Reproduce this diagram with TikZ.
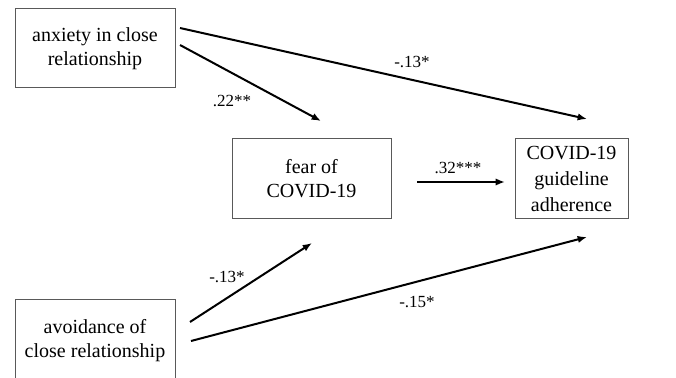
\documentclass[tikz,border=0pt]{standalone}
\usepackage{fontspec}
\setmainfont{Liberation Serif}
\usetikzlibrary{arrows.meta}
\tikzset{
	box/.style={draw=black!65, line width=0.75pt, inner sep=0pt, align=center, font=\fontsize{15}{18}\selectfont},
	path/.style={line width=1.5pt, -{Latex[length=7pt,width=5.5pt]}},
	coef/.style={inner sep=0pt, font=\fontsize{12.75}{14}\selectfont}
}

\begin{document}
\begin{tikzpicture}[x=0.75pt, y=-0.75pt]
			%%%%% START %%%%%
			\useasboundingbox (0, 0) rectangle (676, 378);
			
			\node[box, minimum width=120pt, minimum height=59.25pt] (anx) at (95, 48.5) {anxiety in close\\relationship};
			\node[box, minimum width=119.25pt, minimum height=60pt] (fear) at (311.5, 179) {fear of\\COVID-19};
			\node[box, minimum width=84.75pt, minimum height=60pt, font=\fontsize{15}{19.5}\selectfont] (adh) at (571.5, 179) {COVID-19\\guideline\\adherence};
			\node[box, minimum width=120pt, minimum height=63pt] (avo) at (95, 341) {avoidance of\\close relationship};
			
			\coordinate (anxA) at (180, 28);
			\coordinate (anxB) at (180, 45);
			\coordinate (fearIn) at (321, 121);
			\coordinate (adhIn) at (587, 119);
			\coordinate (fearOut) at (417, 182);
			\coordinate (adhMid) at (505, 182);
			\coordinate (avoA) at (190, 322);
			\coordinate (avoB) at (191, 341);
			\coordinate (fearLow) at (312, 243);
			\coordinate (adhLow) at (587, 237);
			
			\draw[path] (anxA) -- (adhIn);
			\draw[path] (anxB) -- (fearIn);
			\draw[path] (fearOut) -- (adhMid);
			\draw[path] (avoA) -- (fearLow);
			\draw[path] (avoB) -- (adhLow);
			
			\node[coef] (cAnxAdh) at (412, 62) {-.13*};
			\node[coef] (cAnxFear) at (232, 101) {.22**};
			\node[coef] (cFearAdh) at (458, 168) {.32***};
			\node[coef] (cAvoFear) at (227, 277) {-.13*};
			\node[coef] (cAvoAdh) at (417, 302) {-.15*};
			%%%%% END %%%%%
\end{tikzpicture}
\end{document}
